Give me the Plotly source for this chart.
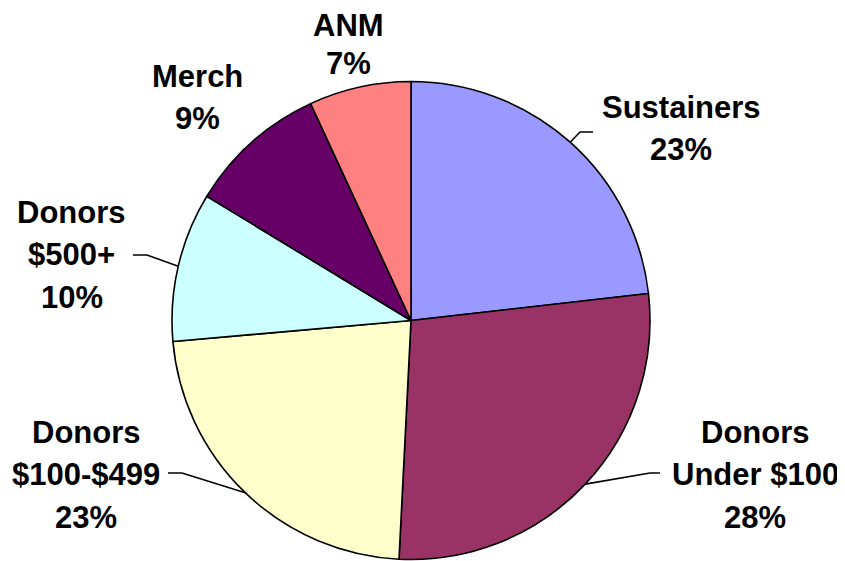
import math
import plotly.graph_objects as go

# ---- data ----
categories = ["Sustainers", "Donors<br>Under $100", "Donors<br>$100-$499",
              "Donors<br>$500+", "Merch", "ANM"]
values = [23.2, 27.6, 22.8, 10.1, 9.4, 6.9]
colors = ["#9999FF", "#993366", "#FFFFCC", "#CCFFFF", "#660066", "#FF8080"]

# ---- layout constants (screen pixels) ----
OFF = 8                       # page body margin
W, H = 845 - OFF, 561 - OFF   # figure size
CX, CY, R = 411, 320.5, 239
FONT = 31
# label text centre x, first-line baseline y, line pitch
label_pos = [(681, 118, 42.5), (755, 443, 42.5), (86, 443, 42.5),
             (72, 223, 42.5), (197, 87, 42.5), (348, 36, 38)]
# leader: (text-side x, elbow x, y of horizontal segment) or None
leaders = [(593, 580, 132), (660, 650, 473), (168, 182, 473), (133, 147, 255), None, None]


def px(x):
    return (x - OFF) / W


def py(y):
    return 1 - (y - OFF) / H


fig = go.Figure(go.Pie(
    labels=[c.replace("<br>", " ") for c in categories],
    values=values,
    sort=False,
    direction="clockwise",
    rotation=0,
    marker=dict(colors=colors, line=dict(color="black", width=1.6)),
    textinfo="none",
    hoverinfo="label+percent",
    showlegend=False,
    domain=dict(x=[px(CX - R), px(CX + R)], y=[py(CY + R), py(CY - R)]),
))

total = sum(values)
annotations = []
shapes = []
cum = 0.0
for cat, v, (lx, ly, pitch), ld in zip(categories, values, label_pos, leaders):
    frac_mid = (cum + v / 2) / total
    cum += v
    pct = f"{round(100 * v / total)}%"
    lines = cat.split("<br>") + [pct]
    for i, t in enumerate(lines):
        base = ly + i * pitch
        annotations.append(dict(
            x=px(lx), y=py(base - 0.35 * FONT), xref="paper", yref="paper",
            text=f"<b>{t}</b>", showarrow=False, xanchor="center", yanchor="middle",
            font=dict(family="Arial, Liberation Sans, sans-serif", size=FONT, color="black"),
        ))
    if ld is not None:
        tx, ex, ey = ld
        th = 2 * math.pi * frac_mid
        ax = CX + R * math.sin(th)
        ay = CY - R * math.cos(th)
        path = f"M {px(tx)},{py(ey)} L {px(ex)},{py(ey)} L {px(ax)},{py(ay)}"
        shapes.append(dict(type="path", xref="paper", yref="paper", path=path,
                           line=dict(color="black", width=1.6)))

fig.update_layout(
    width=W, height=H,
    margin=dict(l=0, r=0, t=0, b=0),
    paper_bgcolor="white",
    plot_bgcolor="white",
    annotations=annotations,
    shapes=shapes,
)

fig.write_html("out.html")
